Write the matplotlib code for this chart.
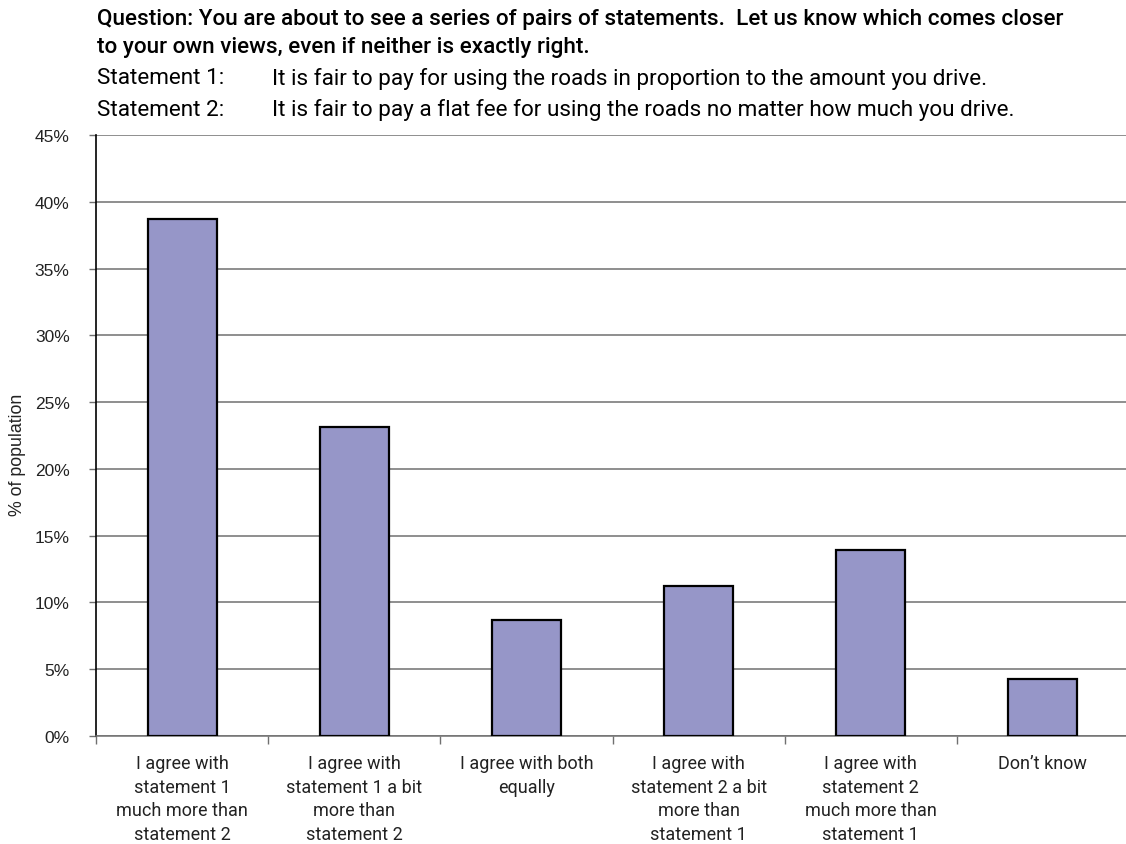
import matplotlib.pyplot as plt
import numpy as np

categories = [
    "I agree with\nstatement 1\nmuch more than\nstatement 2",
    "I agree with\nstatement 1 a bit\nmore than\nstatement 2",
    "I agree with both\nequally",
    "I agree with\nstatement 2 a bit\nmore than\nstatement 1",
    "I agree with\nstatement 2\nmuch more than\nstatement 1",
    "Don\u2019t know",
]
shares = [38.7, 23.1, 8.7, 11.2, 13.9, 4.3]
y_ticks = [0, 5, 10, 15, 20, 25, 30, 35, 40, 45]

question_lines = [
    "Question: You are about to see a series of pairs of statements.  Let us know which comes closer",
    "to your own views, even if neither is exactly right.",
]
statement_labels = ["Statement 1:", "Statement 2:"]
statement_texts = [
    "It is fair to pay for using the roads in proportion to the amount you drive.",
    "It is fair to pay a flat fee for using the roads no matter how much you drive.",
]

W, H = 1126, 845
fig = plt.figure(figsize=(W / 100, H / 100), dpi=100)
ax = fig.add_axes([96 / W, 1 - 737 / H, (1129 - 96) / W, (737 - 136) / H])

x = np.arange(len(categories))
ax.bar(x, shares, width=0.4, color="#9696C8", edgecolor="black", linewidth=1.6, zorder=3)

ax.set_xlim(-0.5, len(categories) - 0.5)
ax.set_ylim(0, 45)
ax.set_yticks(y_ticks)
ax.set_yticklabels([f"{v}%" for v in y_ticks], fontfamily="Liberation Sans", fontsize=12.5,
                   color="#222222")
ax.yaxis.grid(True, color="#707070", linewidth=1.1, zorder=0)
ax.set_axisbelow(True)

# boundaries carry the tick marks, centres carry the labels
ax.set_xticks(np.arange(-0.5, len(categories), 1.0))
ax.set_xticklabels([])
ax.set_xticks(x, minor=True)
ax.set_xticklabels(categories, minor=True, fontfamily="Roboto", fontsize=13.0,
                   linespacing=1.4, color="#222222", va="top")
ax.tick_params(axis="x", which="major", length=6, width=1, color="#707070", direction="out")
ax.tick_params(axis="x", which="minor", length=0, pad=13)
ax.tick_params(axis="y", length=5, width=1, color="#707070", direction="out", pad=14)

for side in ("top", "right"):
    ax.spines[side].set_visible(False)
ax.spines["left"].set_color("black")
ax.spines["left"].set_linewidth(1.2)
ax.spines["bottom"].set_color("#707070")
ax.spines["bottom"].set_linewidth(1.1)

fig.text(18 / W, 1 - 455 / H, "% of population", fontfamily="Liberation Sans", fontsize=12.8,
         rotation=90, ha="center", va="center", color="#222222")

for i, line in enumerate(question_lines):
    fig.text(97 / W, 1 - (19 + 28 * i) / H, line, fontfamily="Roboto", fontweight="medium",
             fontsize=16.2, va="center", ha="left", color="black")
for i, (lab, txt) in enumerate(zip(statement_labels, statement_texts)):
    yy = 1 - (79 + 31 * i) / H
    fig.text(97 / W, yy, lab, fontfamily="Roboto", fontsize=16.2, va="center", ha="left")
    fig.text(272 / W, yy, txt, fontfamily="Roboto", fontsize=16.2, va="center", ha="left")

fig.savefig("out.png", dpi=100)
